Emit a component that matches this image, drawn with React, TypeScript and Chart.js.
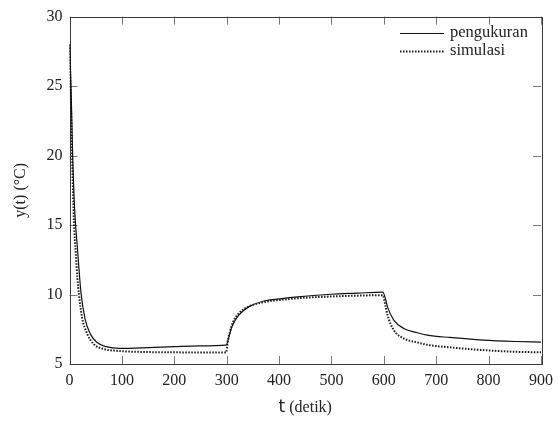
import React, { useEffect, useRef } from "react";
import { Chart, registerables } from "chart.js";

Chart.register(...registerables);

// pengukuran (measurement)
const tPengukuran = [0, 3, 6, 10, 15, 22, 30, 40, 52, 70, 95, 150, 200, 250, 299, 304, 310, 323, 342, 373, 405, 436, 499, 550, 598, 603, 607, 619, 638, 664, 683, 726, 790, 850, 900];
const yPengukuran = [28.0, 24.8, 20.0, 16.0, 13.4, 10.1, 8.2, 7.15, 6.56, 6.25, 6.13, 6.18, 6.25, 6.3, 6.36, 6.9, 7.68, 8.52, 9.11, 9.55, 9.71, 9.83, 10.02, 10.1, 10.17, 9.7, 9.11, 8.16, 7.56, 7.25, 7.08, 6.91, 6.72, 6.62, 6.57];

// simulasi (simulation)
const tSimulasi = [0, 2, 5, 8.5, 12, 15, 18, 24, 34, 46, 65, 90, 150, 200, 250, 299, 302, 306, 312, 322, 340, 370, 405, 450, 500, 550, 598, 603, 607, 619, 638, 664, 683, 726, 790, 850, 900];
const ySimulasi = [28.0, 25.0, 20.0, 15.2, 13.0, 11.2, 10.0, 8.35, 7.15, 6.44, 6.08, 5.95, 5.86, 5.84, 5.83, 5.83, 6.6, 7.3, 8.0, 8.6, 9.1, 9.45, 9.62, 9.77, 9.86, 9.92, 9.95, 9.2, 8.52, 7.44, 6.84, 6.55, 6.38, 6.2, 6.0, 5.88, 5.84];

const xTicks = [0, 100, 200, 300, 400, 500, 600, 700, 800, 900];
const yTicks = [5, 10, 15, 20, 25, 30];
const seriesLabels = ["pengukuran", "simulasi"];

const SERIF = "'Liberation Serif', 'Times New Roman', serif";

const framePlugin = {
  id: "frame",
  beforeDatasetsDraw(chart: any) {
    const { ctx, chartArea } = chart;
    const { left, right, top, bottom } = chartArea;
    const xs = chart.scales.x;
    const ys = chart.scales.y;
    ctx.save();
    ctx.strokeStyle = "#7a7a7a";
    ctx.lineWidth = 1;
    const tl = 8;
    for (const v of xTicks) {
      const px = Math.round(xs.getPixelForValue(v)) + 0.5;
      ctx.beginPath();
      ctx.moveTo(px, bottom);
      ctx.lineTo(px, bottom - tl);
      ctx.moveTo(px, top);
      ctx.lineTo(px, top + tl);
      ctx.stroke();
    }
    for (const v of yTicks) {
      const py = Math.round(ys.getPixelForValue(v)) + 0.5;
      ctx.beginPath();
      ctx.moveTo(left, py);
      ctx.lineTo(left + tl, py);
      ctx.moveTo(right, py);
      ctx.lineTo(right - tl, py);
      ctx.stroke();
    }
    ctx.strokeStyle = "#3a3a3a";
    ctx.strokeRect(Math.round(left) + 0.5, Math.round(top) + 0.5, Math.round(right - left), Math.round(bottom - top));
    ctx.restore();
  },
  afterDraw(chart: any) {
    const { ctx, chartArea } = chart;
    const { left, right, top, bottom } = chartArea;
    ctx.save();
    ctx.fillStyle = "#222";
    // y title
    ctx.font = `16px ${SERIF}`;
    ctx.translate(21, (top + bottom) / 2);
    ctx.rotate(-Math.PI / 2);
    ctx.textAlign = "center";
    ctx.textBaseline = "middle";
    ctx.fillText("y(t) (°C)", 0, 0);
    ctx.restore();

    // x title: "t" sans + "(detik)" serif
    ctx.save();
    ctx.fillStyle = "#222";
    ctx.textBaseline = "alphabetic";
    const cx = (left + right) / 2;
    ctx.font = `17px 'DejaVu Sans', sans-serif`;
    const tW = ctx.measureText("t").width;
    ctx.font = `16px ${SERIF}`;
    const rest = " (detik)";
    const rW = ctx.measureText(rest).width;
    const startX = cx - (tW + rW) / 2;
    const baseY = 412;
    ctx.font = `17px 'DejaVu Sans', sans-serif`;
    ctx.textAlign = "left";
    ctx.fillText("t", startX, baseY);
    ctx.font = `16px ${SERIF}`;
    ctx.fillText(rest, startX + tW, baseY);
    ctx.restore();

    // legend
    ctx.save();
    const ds = chart.data.datasets;
    const rows = [33, 51];
    ds.forEach((d: any, i: number) => {
      const y = rows[i] + 0.5;
      ctx.strokeStyle = d.borderColor;
      ctx.lineWidth = d.borderWidth;
      ctx.setLineDash(d.borderDash || []);
      ctx.beginPath();
      ctx.moveTo(400, y);
      ctx.lineTo(444, y);
      ctx.stroke();
      ctx.setLineDash([]);
      ctx.fillStyle = "#222";
      ctx.font = `16.5px ${SERIF}`;
      ctx.textAlign = "left";
      ctx.textBaseline = "middle";
      ctx.fillText(d.label, 450, rows[i]);
    });
    ctx.restore();
  },
};

export default function App() {
  const ref = useRef<HTMLCanvasElement | null>(null);
  useEffect(() => {
    document.body.style.margin = "0";
    const canvas = ref.current!;
    const chart = new Chart(canvas, {
      type: "line",
      data: {
        datasets: [
          {
            label: seriesLabels[0],
            data: tPengukuran.map((t, i) => ({ x: t, y: yPengukuran[i] })),
            borderColor: "#111111",
            borderWidth: 1.2,
            pointRadius: 0,
            cubicInterpolationMode: "monotone",
            fill: false,
          },
          {
            label: seriesLabels[1],
            data: tSimulasi.map((t, i) => ({ x: t, y: ySimulasi[i] })),
            borderColor: "#1a1a1a",
            borderWidth: 2,
            borderDash: [1.5, 1.5],
            pointRadius: 0,
            cubicInterpolationMode: "monotone",
            fill: false,
          },
        ],
      },
      options: {
        responsive: false,
        animation: false,
        layout: { padding: { top: 16, right: 15, left: 0, bottom: 0 } },
        plugins: { legend: { display: false }, tooltip: { enabled: false } },
        scales: {
          x: {
            type: "linear",
            min: 0,
            max: 900,
            afterBuildTicks: (scale: any) => {
              scale.ticks = xTicks.map((v) => ({ value: v }));
            },
            afterFit: (scale: any) => {
              scale.height = 59;
            },
            grid: { display: false, drawTicks: false },
            border: { display: false },
            ticks: {
              padding: 7,
              color: "#222",
              font: { family: SERIF, size: 16 },
              maxRotation: 0,
              autoSkip: false,
            },
          },
          y: {
            type: "linear",
            min: 5,
            max: 30,
            afterBuildTicks: (scale: any) => {
              scale.ticks = yTicks.map((v) => ({ value: v }));
            },
            afterFit: (scale: any) => {
              scale.width = 69.5;
            },
            grid: { display: false, drawTicks: false },
            border: { display: false },
            ticks: {
              padding: 7,
              color: "#222",
              font: { family: SERIF, size: 16 },
            },
          },
        },
      },
      plugins: [framePlugin],
    } as any);
    return () => chart.destroy();
  }, []);
  return (
    <div style={{ width: 560, height: 423 }}>
      <canvas ref={ref} width={560} height={423} style={{ display: "block" }} />
    </div>
  );
}
